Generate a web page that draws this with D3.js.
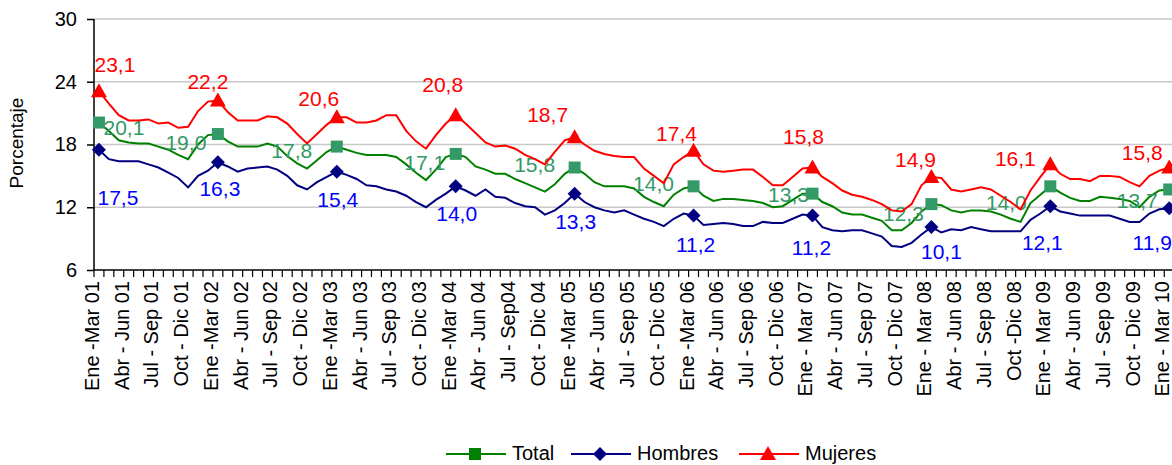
<!DOCTYPE html>
<html>
<head>
<meta charset="utf-8">
<script src="https://cdn.jsdelivr.net/npm/d3@7"></script>
<style>
  body { margin: 0; background: #fff; }
  svg { display: block; font-family: "Liberation Sans", Arial, sans-serif; }
</style>
</head>
<body>
<svg id="chart" width="1172" height="465"></svg>
<script>
// axis labels shown every third rolling quarter
const tickLabels = ["Ene -Mar 01", "Abr - Jun 01", "Jul - Sep 01", "Oct - Dic 01",
  "Ene -Mar 02", "Abr - Jun 02", "Jul - Sep 02", "Oct - Dic 02",
  "Ene -Mar 03", "Abr - Jun 03", "Jul - Sep 03", "Oct - Dic 03",
  "Ene -Mar 04", "Abr - Jun 04", "Jul - Sep04", "Oct - Dic 04",
  "Ene -Mar 05", "Abr - Jun 05", "Jul - Sep 05", "Oct - Dic 05",
  "Ene -Mar 06", "Abr - Jun 06", "Jul - Sep 06", "Oct - Dic 06",
  "Ene - Mar 07", "Abr - Jun 07", "Jul - Sep 07", "Oct - Dic 07",
  "Ene - Mar 08", "Abr - Jun 08", "Jul - Sep 08", "Oct -Dic 08",
  "Ene - Mar 09", "Abr - Jun 09", "Jul - Sep 09", "Oct - Dic 09",
  "Ene - Mar 10"];

const mujeres = [23.1, 21.9, 20.8, 20.3, 20.3, 20.4, 20.0, 20.1, 19.6, 19.7, 21.2, 22.1,
  22.2, 21.1, 20.3, 20.3, 20.3, 20.7, 20.6, 20.0, 19.0, 18.1, 19.0, 19.9,
  20.6, 20.6, 20.1, 20.1, 20.3, 20.8, 20.8, 19.3, 18.3, 17.6, 18.9, 20.0,
  20.8, 20.0, 19.1, 18.2, 17.8, 17.9, 17.6, 17.0, 16.6, 16.1, 17.3, 18.4,
  18.7, 18.0, 17.4, 17.1, 16.9, 16.8, 16.8, 15.7, 15.0, 14.3, 16.1, 16.8,
  17.4, 16.1, 15.5, 15.4, 15.5, 15.6, 15.6, 14.9, 14.1, 14.1, 14.9, 15.7,
  15.8, 14.9, 14.3, 13.6, 13.2, 13.0, 12.7, 12.3, 11.7, 11.6, 12.3, 14.1,
  14.9, 14.8, 13.7, 13.5, 13.7, 13.9, 13.7, 13.1, 12.5, 11.8, 13.6, 14.9,
  16.1, 15.2, 14.7, 14.7, 14.5, 15.0, 15.0, 14.9, 14.4, 14.0, 15.0, 15.5,
  15.8];

const total = [20.1, 19.3, 18.4, 18.2, 18.1, 18.1, 17.8, 17.5, 17.0, 16.6, 18.0, 18.9,
  19.0, 18.3, 17.8, 17.8, 17.8, 18.1, 17.8, 16.9, 16.2, 15.7, 16.5, 17.3,
  17.8, 17.5, 17.2, 17.0, 17.0, 17.0, 16.8, 16.1, 15.3, 14.6, 15.6, 16.8,
  17.1, 16.8, 15.9, 15.6, 15.2, 15.2, 14.7, 14.3, 13.9, 13.5, 14.2, 15.2,
  15.8, 15.2, 14.4, 14.0, 14.0, 14.0, 13.8, 13.0, 12.5, 12.1, 13.2, 13.8,
  14.0, 13.1, 12.6, 12.8, 12.8, 12.7, 12.6, 12.4, 12.0, 12.1, 12.7, 13.3,
  13.3, 12.5, 12.1, 11.5, 11.3, 11.3, 11.0, 10.7, 9.8, 9.8, 10.5, 11.6,
  12.3, 12.2, 11.7, 11.5, 11.7, 11.7, 11.6, 11.3, 10.9, 10.6, 12.4, 13.2,
  14.0, 13.4, 12.9, 12.6, 12.6, 13.0, 12.9, 12.8, 12.6, 12.0, 13.0, 13.6,
  13.7];

const hombres = [17.5, 16.6, 16.4, 16.4, 16.4, 16.1, 15.8, 15.3, 14.8, 13.9, 15.0, 15.5,
  16.3, 15.9, 15.4, 15.7, 15.8, 15.9, 15.6, 15.0, 14.1, 13.7, 14.4, 14.9,
  15.4, 15.1, 14.7, 14.1, 14.0, 13.7, 13.5, 13.1, 12.5, 12.0, 12.7, 13.3,
  14.0, 13.6, 13.1, 13.7, 13.0, 12.9, 12.4, 12.1, 12.0, 11.3, 11.7, 12.4,
  13.3, 12.5, 12.0, 11.7, 11.5, 11.7, 11.3, 10.9, 10.6, 10.2, 10.9, 11.4,
  11.2, 10.3, 10.4, 10.5, 10.4, 10.2, 10.2, 10.6, 10.5, 10.5, 10.9, 11.3,
  11.2, 10.1, 9.8, 9.7, 9.8, 9.8, 9.5, 9.2, 8.3, 8.2, 8.6, 9.4,
  10.1, 9.6, 9.9, 9.8, 10.1, 9.9, 9.7, 9.7, 9.7, 9.7, 10.8, 11.4,
  12.1, 11.6, 11.4, 11.2, 11.2, 11.2, 11.2, 10.9, 10.6, 10.6, 11.4, 11.8,
  11.9];

const yTicks = [6, 12, 18, 24, 30];
const categories = d3.range(mujeres.length);           // one per rolling quarter
const labelled = categories.filter(i => i % 12 === 0); // Ene - Mar of each year

// label placement (pixels from the marker), set by hand like the original
const mujeresOffsets = [[16,-19],[-10,-12],[-18,-11],[-13,-23],[-27,-15],[-17,-10],[-9,-24],[-16,-10],[-35,2],[-27,-8]];
const totalOffsets = [[25,12],[-32,16],[-45,11],[-31,16],[-40,4],[-40,5],[-24,8],[-28,17],[-44,24],[-32,19]];
const hombresOffsets = [[19,55],[2,34],[1,35],[1,35],[1,35],[2,36],[-1,39],[10,32],[-8,44],[-17,42]];

const svg = d3.select("#chart");
const plotLeft = 94, plotTop = 19, plotBottom = 270, step = 9.91;

const x = d3.scaleBand().domain(categories).range([plotLeft, plotLeft + step * categories.length]);
const y = d3.scaleLinear().domain([6, 30]).range([plotBottom, plotTop]);
const cx = i => x(i) + x.bandwidth() / 2;

// gridlines
svg.append("g").selectAll("line")
  .data(yTicks.slice(1))
  .enter().append("line")
  .attr("x1", plotLeft).attr("x2", 1172)
  .attr("y1", d => y(d)).attr("y2", d => y(d))
  .style("stroke", "#c8c8c8")
  .style("stroke-width", 1.5);

// y axis
const yAxis = svg.append("g")
  .attr("transform", "translate(" + plotLeft + ",0)")
  .call(d3.axisLeft(y).tickValues(yTicks).tickSize(7).tickPadding(10));
yAxis.select(".domain").attr("d", "M0," + y(30) + "V" + y(6)).style("stroke", "#000").style("stroke-width", 1.5);
yAxis.selectAll(".tick line").style("stroke", "#000").style("stroke-width", 1.5);
yAxis.selectAll(".tick text")
  .style("font-size", "20px")
  .style("font-family", "Liberation Sans, Arial, sans-serif")
  .style("fill", "#000");

svg.append("text")
  .attr("transform", "translate(23,143) rotate(-90)")
  .attr("text-anchor", "middle")
  .style("font-size", "19px")
  .text("Porcentaje");

// x axis line and one tick per category boundary
svg.append("line")
  .attr("x1", plotLeft).attr("x2", 1172)
  .attr("y1", plotBottom).attr("y2", plotBottom)
  .style("stroke", "#000").style("stroke-width", 1.5);

svg.append("g").selectAll("line")
  .data(categories)
  .enter().append("line")
  .attr("x1", d => x(d)).attr("x2", d => x(d))
  .attr("y1", plotBottom).attr("y2", plotBottom + 7)
  .style("stroke", "#000").style("stroke-width", 1.2);

svg.append("g").selectAll("text")
  .data(categories.filter(i => i % 3 === 0))
  .enter().append("text")
  .attr("transform", d => "translate(" + cx(d) + "," + (plotBottom + 11) + ") rotate(-90)")
  .attr("text-anchor", "end")
  .style("font-size", "20px")
  .text((d, i) => tickLabels[i]);

// series
const series = [
  { name: "Total", values: total, line: "#008000", marker: "#339966", text: "#339966", shape: "square", offsets: totalOffsets },
  { name: "Hombres", values: hombres, line: "#000080", marker: "#000080", text: "#0000ff", shape: "diamond", offsets: hombresOffsets },
  { name: "Mujeres", values: mujeres, line: "#ff0000", marker: "#ff0000", text: "#ff0000", shape: "triangle", offsets: mujeresOffsets }
];

function markerPath(shape) {
  if (shape === "square") return "M-6,-6H6V6H-6Z";
  if (shape === "diamond") return "M0,-7L7,0L0,7L-7,0Z";
  return "M0,-8L8,6H-8Z";
}

const line = d3.line().x((d, i) => cx(i)).y(d => y(d));

series.forEach(function (s) {
  svg.append("path")
    .datum(s.values)
    .attr("d", line)
    .style("fill", "none")
    .style("stroke", s.line)
    .style("stroke-width", 2);

  svg.append("g").selectAll("path")
    .data(labelled)
    .enter().append("path")
    .attr("transform", d => "translate(" + cx(d) + "," + y(s.values[d]) + ")")
    .attr("d", markerPath(s.shape))
    .style("fill", s.marker);

  svg.append("g").selectAll("text")
    .data(labelled)
    .enter().append("text")
    .attr("x", (d, k) => cx(d) + s.offsets[k][0])
    .attr("y", (d, k) => y(s.values[d]) + s.offsets[k][1])
    .attr("text-anchor", "middle")
    .style("font-size", "21px")
    .style("fill", s.text)
    .text(d => s.values[d].toFixed(1).replace(".", ","));
});

// legend
const legendX = [446, 571, 739];
const legendColors = ["#008000", "#000080", "#ff0000"];
const legend = svg.append("g").selectAll("g")
  .data(series)
  .enter().append("g")
  .attr("transform", (d, i) => "translate(" + legendX[i] + ",454)");

legend.append("line")
  .attr("x1", 0).attr("x2", 60)
  .style("stroke", (d, i) => legendColors[i])
  .style("stroke-width", 2);
legend.append("path")
  .attr("transform", "translate(29,0)")
  .attr("d", d => markerPath(d.shape))
  .style("fill", (d, i) => legendColors[i]);
legend.append("text")
  .attr("x", 66).attr("y", 6)
  .style("font-size", "20px")
  .text(d => d.name);
</script>
</body>
</html>
